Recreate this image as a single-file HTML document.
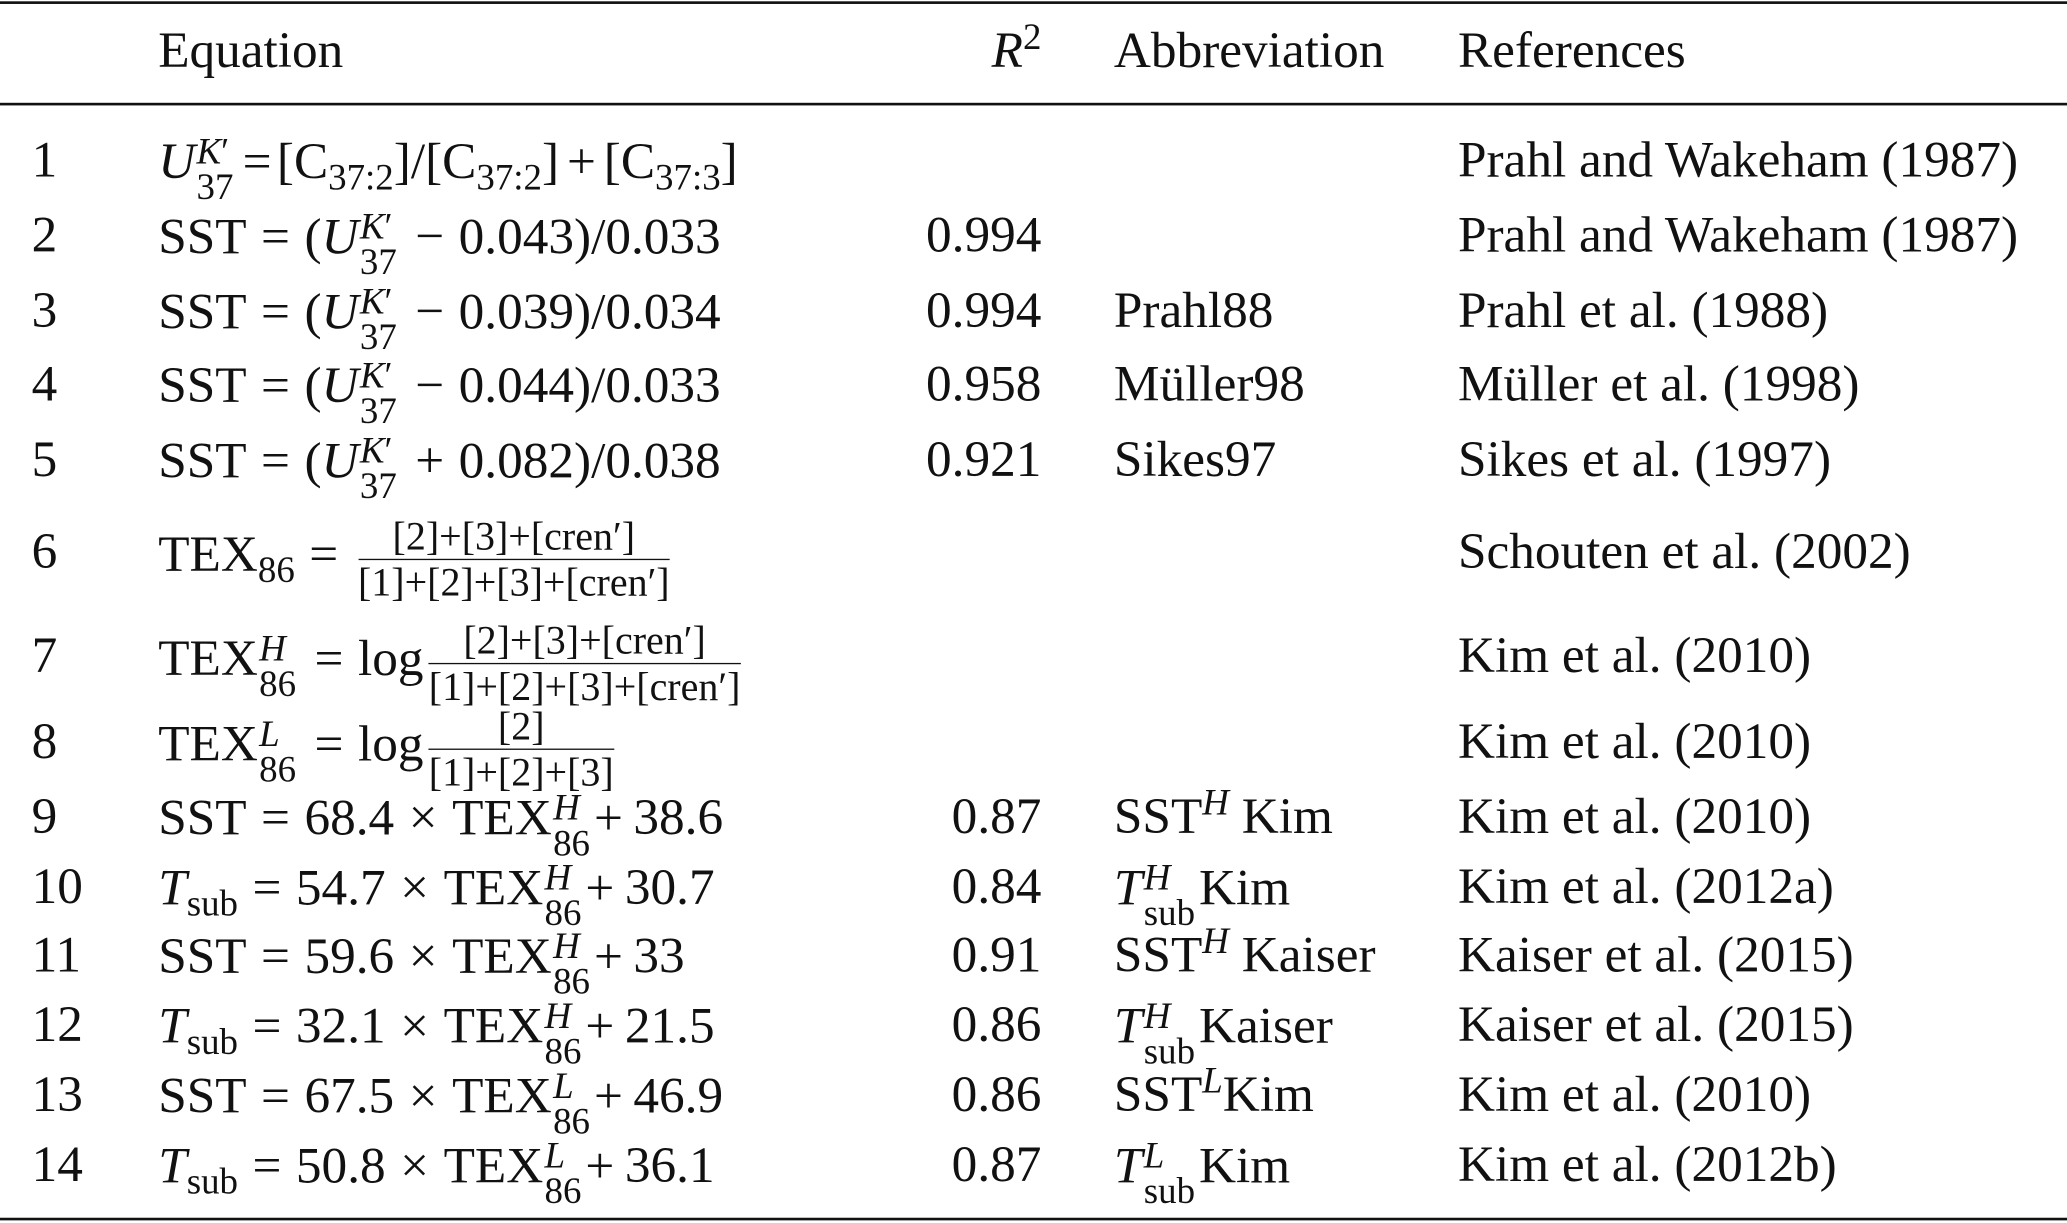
<!DOCTYPE html>
<html><head><meta charset="utf-8">
<style>
html,body{margin:0;padding:0;background:#fff;}
body{width:2067px;height:1223px;overflow:hidden;position:relative;}
#wrap{position:absolute;left:0;top:0;width:1568px;height:928px;transform:scale(1.31824,1.3179);transform-origin:0 0;font-family:"Liberation Serif","DejaVu Serif",serif;font-size:38.9px;color:#111;}
.rule{position:absolute;left:0;width:1568px;background:#111;}
.c{position:absolute;line-height:38px;white-space:nowrap;}
.r{text-align:right;}
i{font-style:italic;}
.o{margin:0 11px;}
.p{margin:0 10px 0 2px;}
.ss{display:inline-block;vertical-align:-0.55em;line-height:0.95em;font-size:0.72em;margin-left:1px;margin-right:3px;}
.ss span{display:block;}
.fr{display:inline-block;vertical-align:-0.62em;text-align:center;font-size:0.78em;line-height:1.12em;margin-left:4px;}
.fr .n{display:block;border-bottom:1.5px solid #111;padding:0 2px;}
.fr .d{display:block;}
.sb{font-size:0.72em;vertical-align:-0.3em;line-height:0;}
.sp{font-size:0.72em;vertical-align:0.5em;line-height:0;}
</style></head><body>
<div id="wrap">
<div class="rule" style="top:1px;height:2px"></div>
<div class="rule" style="top:78px;height:2px"></div>
<div class="rule" style="top:924px;height:2px"></div>

<div class="c" style="left:120px;top:20px">Equation</div>
<div class="c" style="left:690px;width:100px;top:20px;text-align:right"><i>R</i><span class="sp">2</span></div>
<div class="c" style="left:845px;top:20px">Abbreviation</div>
<div class="c" style="left:1106px;top:20px">References</div>

<div class="c" style="left:24px;top:103px">1</div>
<div class="c" style="left:120px;top:103px"><i>U</i><span class="ss"><span><i>K</i>′</span><span>37</span></span><span class="o" style="margin:0 4px">=</span>[C<span class="sb">37:2</span>]/[C<span class="sb">37:2</span>]<span class="o" style="margin:0 6px">+</span>[C<span class="sb">37:3</span>]</div>
<div class="c" style="left:1106px;top:103px">Prahl and Wakeham (1987)</div>

<div class="c" style="left:24px;top:160px">2</div>
<div class="c" style="left:120px;top:160px">SST<span class="o">=</span>(<i>U</i><span class="ss"><span><i>K</i>′</span><span>37</span></span><span class="o">−</span>0.043)/0.033</div>
<div class="c r" style="left:690px;width:100px;top:160px">0.994</div>
<div class="c" style="left:1106px;top:160px">Prahl and Wakeham (1987)</div>

<div class="c" style="left:24px;top:217px">3</div>
<div class="c" style="left:120px;top:217px">SST<span class="o">=</span>(<i>U</i><span class="ss"><span><i>K</i>′</span><span>37</span></span><span class="o">−</span>0.039)/0.034</div>
<div class="c r" style="left:690px;width:100px;top:217px">0.994</div>
<div class="c" style="left:845px;top:217px">Prahl88</div>
<div class="c" style="left:1106px;top:217px">Prahl et al. (1988)</div>

<div class="c" style="left:24px;top:273px">4</div>
<div class="c" style="left:120px;top:273px">SST<span class="o">=</span>(<i>U</i><span class="ss"><span><i>K</i>′</span><span>37</span></span><span class="o">−</span>0.044)/0.033</div>
<div class="c r" style="left:690px;width:100px;top:273px">0.958</div>
<div class="c" style="left:845px;top:273px">Müller98</div>
<div class="c" style="left:1106px;top:273px">Müller et al. (1998)</div>

<div class="c" style="left:24px;top:330px">5</div>
<div class="c" style="left:120px;top:330px">SST<span class="o">=</span>(<i>U</i><span class="ss"><span><i>K</i>′</span><span>37</span></span><span class="o">+</span>0.082)/0.038</div>
<div class="c r" style="left:690px;width:100px;top:330px">0.921</div>
<div class="c" style="left:845px;top:330px">Sikes97</div>
<div class="c" style="left:1106px;top:330px">Sikes et al. (1997)</div>

<div class="c" style="left:24px;top:400px">6</div>
<div class="c" style="left:120px;top:390px">TEX<span class="sb">86</span><span class="o">=</span><span class="fr"><span class="n">[2]+[3]+[cren′]</span><span class="d">[1]+[2]+[3]+[cren′]</span></span></div>
<div class="c" style="left:1106px;top:400px">Schouten et al. (2002)</div>

<div class="c" style="left:24px;top:479px">7</div>
<div class="c" style="left:120px;top:469px">TEX<span class="ss"><span><i>H</i></span><span>86</span></span><span class="o">=</span>log<span class="fr"><span class="n">[2]+[3]+[cren′]</span><span class="d">[1]+[2]+[3]+[cren′]</span></span></div>
<div class="c" style="left:1106px;top:479px">Kim et al. (2010)</div>

<div class="c" style="left:24px;top:544px">8</div>
<div class="c" style="left:120px;top:534px">TEX<span class="ss"><span><i>L</i></span><span>86</span></span><span class="o">=</span>log<span class="fr"><span class="n">[2]</span><span class="d">[1]+[2]+[3]</span></span></div>
<div class="c" style="left:1106px;top:544px">Kim et al. (2010)</div>

<div class="c" style="left:24px;top:601px">9</div>
<div class="c" style="left:120px;top:601px">SST<span class="o">=</span>68.4<span class="o">×</span>TEX<span class="ss"><span><i>H</i></span><span>86</span></span>+<span style="margin-left:8px">38.6</span></div>
<div class="c r" style="left:690px;width:100px;top:601px">0.87</div>
<div class="c" style="left:845px;top:601px">SST<span class="sp"><i>H</i></span> Kim</div>
<div class="c" style="left:1106px;top:601px">Kim et al. (2010)</div>

<div class="c" style="left:24px;top:654px">10</div>
<div class="c" style="left:120px;top:654px"><i>T</i><span class="sb">sub</span><span class="o">=</span>54.7<span class="o">×</span>TEX<span class="ss"><span><i>H</i></span><span>86</span></span>+<span style="margin-left:8px">30.7</span></div>
<div class="c r" style="left:690px;width:100px;top:654px">0.84</div>
<div class="c" style="left:845px;top:654px"><i>T</i><span class="ss"><span><i>H</i></span><span>sub</span></span>Kim</div>
<div class="c" style="left:1106px;top:654px">Kim et al. (2012a)</div>

<div class="c" style="left:24px;top:706px">11</div>
<div class="c" style="left:120px;top:706px">SST<span class="o">=</span>59.6<span class="o">×</span>TEX<span class="ss"><span><i>H</i></span><span>86</span></span>+<span style="margin-left:8px">33</span></div>
<div class="c r" style="left:690px;width:100px;top:706px">0.91</div>
<div class="c" style="left:845px;top:706px">SST<span class="sp"><i>H</i></span> Kaiser</div>
<div class="c" style="left:1106px;top:706px">Kaiser et al. (2015)</div>

<div class="c" style="left:24px;top:759px">12</div>
<div class="c" style="left:120px;top:759px"><i>T</i><span class="sb">sub</span><span class="o">=</span>32.1<span class="o">×</span>TEX<span class="ss"><span><i>H</i></span><span>86</span></span>+<span style="margin-left:8px">21.5</span></div>
<div class="c r" style="left:690px;width:100px;top:759px">0.86</div>
<div class="c" style="left:845px;top:759px"><i>T</i><span class="ss"><span><i>H</i></span><span>sub</span></span>Kaiser</div>
<div class="c" style="left:1106px;top:759px">Kaiser et al. (2015)</div>

<div class="c" style="left:24px;top:812px">13</div>
<div class="c" style="left:120px;top:812px">SST<span class="o">=</span>67.5<span class="o">×</span>TEX<span class="ss"><span><i>L</i></span><span>86</span></span>+<span style="margin-left:8px">46.9</span></div>
<div class="c r" style="left:690px;width:100px;top:812px">0.86</div>
<div class="c" style="left:845px;top:812px">SST<span class="sp"><i>L</i></span>Kim</div>
<div class="c" style="left:1106px;top:812px">Kim et al. (2010)</div>

<div class="c" style="left:24px;top:865px">14</div>
<div class="c" style="left:120px;top:865px"><i>T</i><span class="sb">sub</span><span class="o">=</span>50.8<span class="o">×</span>TEX<span class="ss"><span><i>L</i></span><span>86</span></span>+<span style="margin-left:8px">36.1</span></div>
<div class="c r" style="left:690px;width:100px;top:865px">0.87</div>
<div class="c" style="left:845px;top:865px"><i>T</i><span class="ss"><span><i>L</i></span><span>sub</span></span>Kim</div>
<div class="c" style="left:1106px;top:865px">Kim et al. (2012b)</div>
</div>
</body></html>
